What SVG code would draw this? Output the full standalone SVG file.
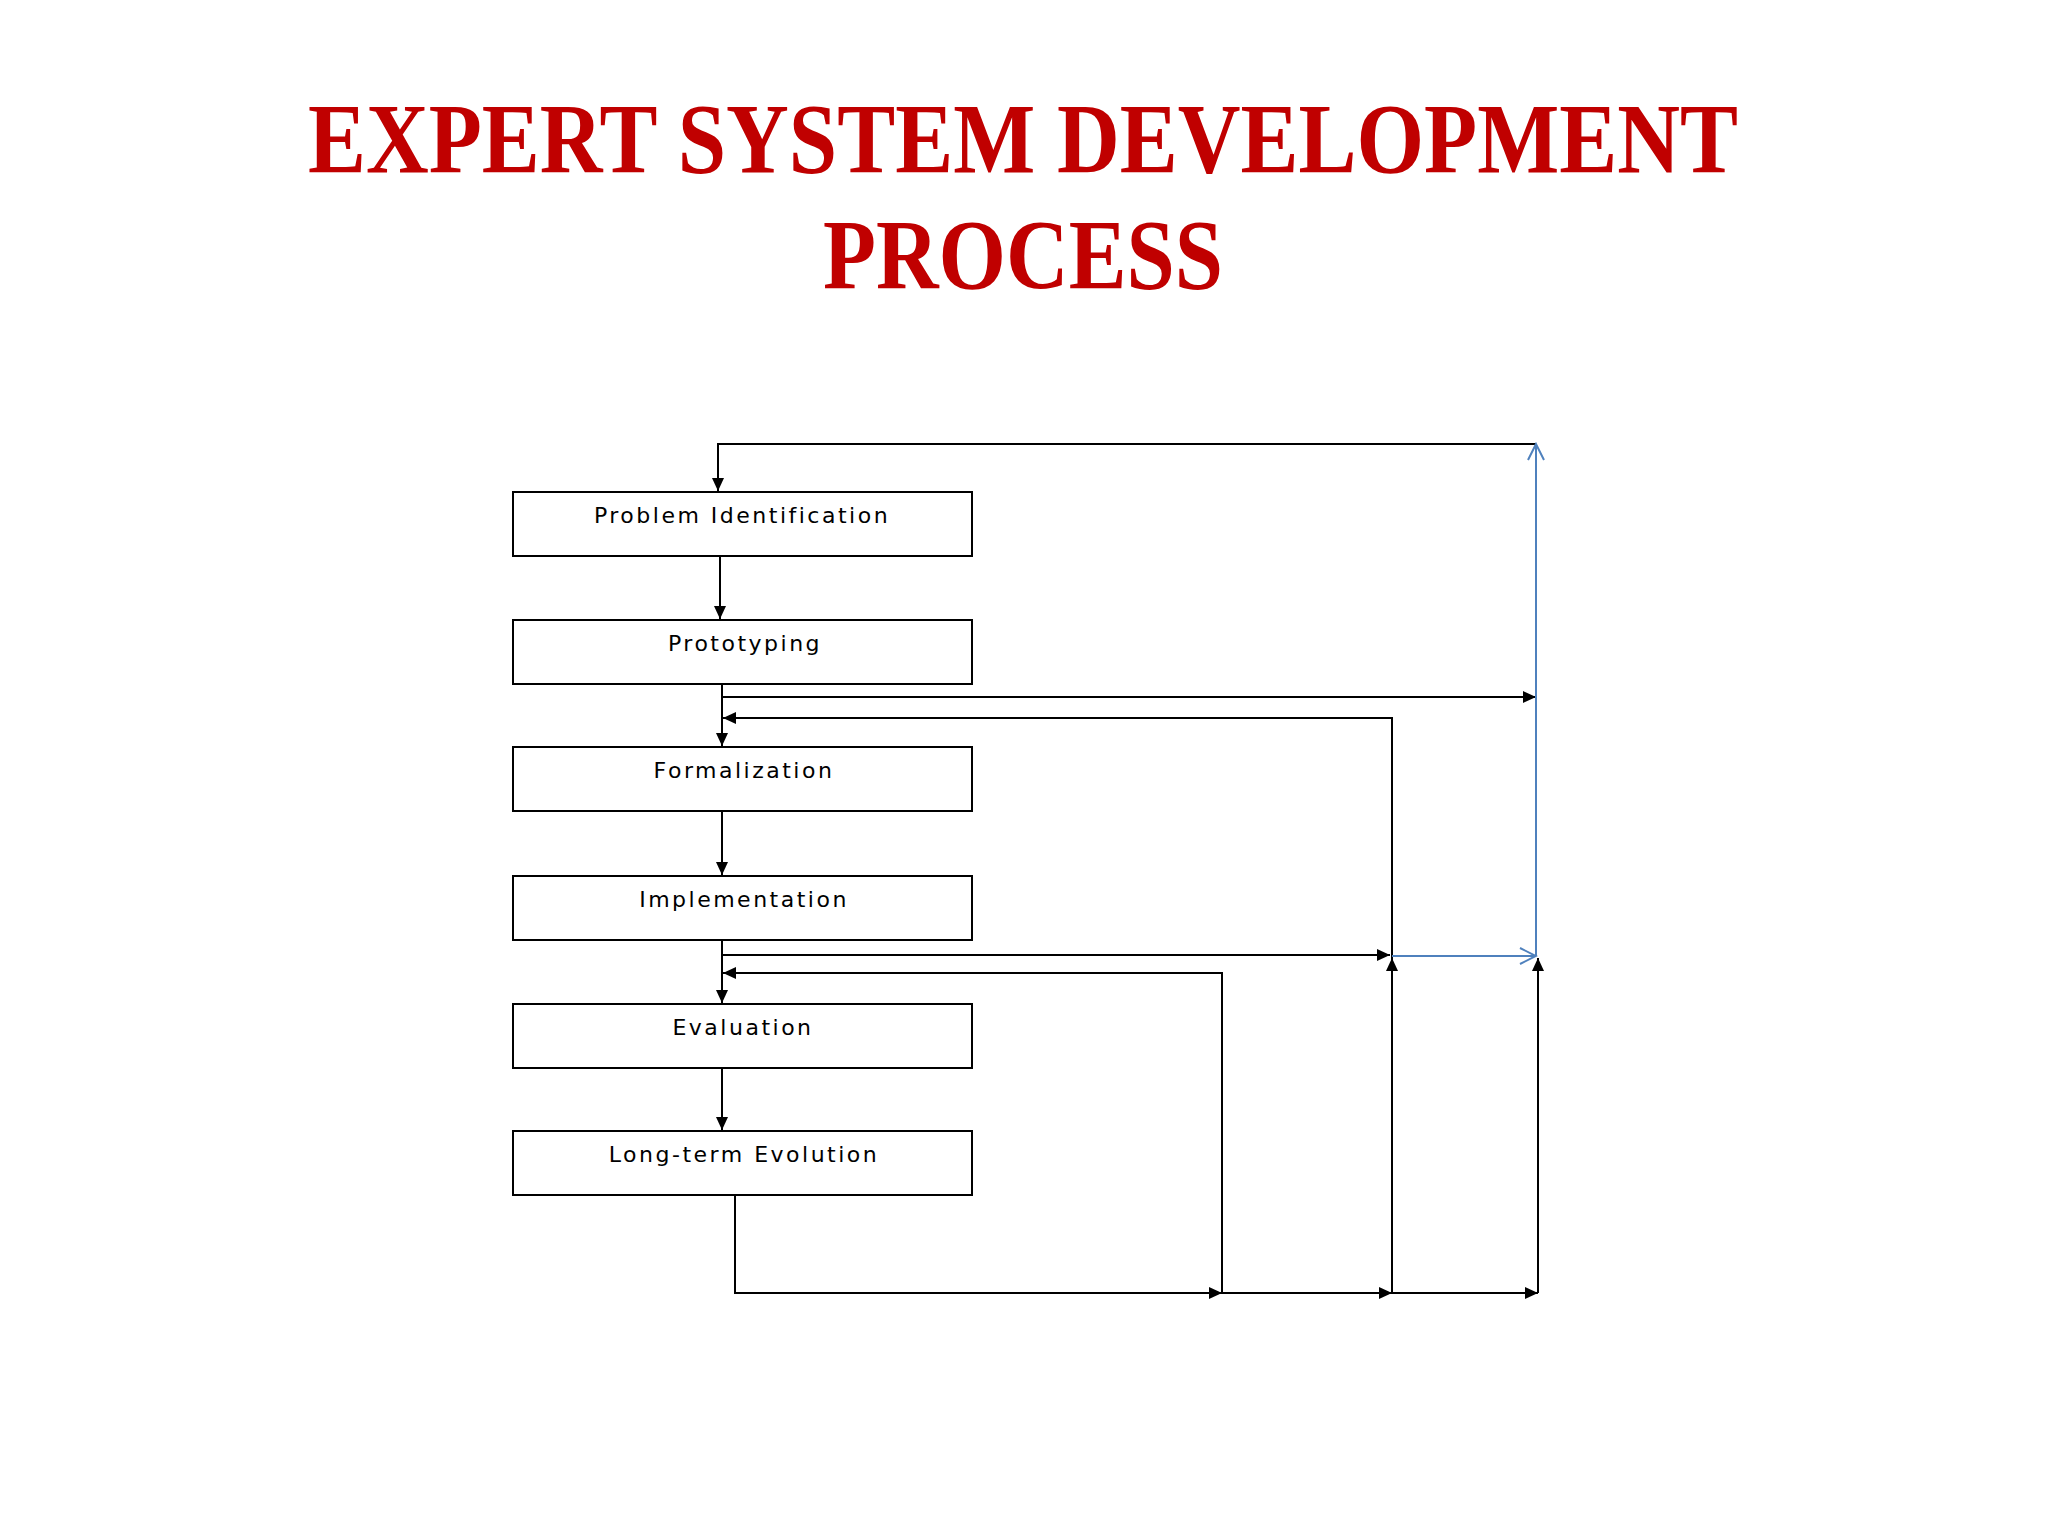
<svg xmlns="http://www.w3.org/2000/svg" width="2048" height="1536" viewBox="0 0 2048 1536">
<style>
.t{font-family:"Liberation Serif",serif;font-weight:bold;font-size:100px;fill:#C00000;text-anchor:middle}
.b{fill:#fff;stroke:#000;stroke-width:2}
.l{font-family:"DejaVu Sans",sans-serif;font-size:22px;text-anchor:middle;letter-spacing:2.5px;fill:#000}
.c{fill:none;stroke:#000;stroke-width:2}
.u{fill:none;stroke:#4F81BD;stroke-width:2}
</style>
<defs>
<marker id="a" markerWidth="14" markerHeight="14" refX="13" refY="7" orient="auto" markerUnits="userSpaceOnUse"><path d="M0,1L13,7L0,13z" fill="#000"/></marker>
<marker id="o" markerWidth="20" markerHeight="20" refX="18" refY="10" orient="auto" markerUnits="userSpaceOnUse"><path d="M2,2L18,10L2,18" fill="none" stroke="#4F81BD" stroke-width="2"/></marker>
</defs>
<rect width="2048" height="1536" fill="#fff"/>
<text class="t" x="1023" y="172" textLength="1430" lengthAdjust="spacingAndGlyphs">EXPERT SYSTEM DEVELOPMENT</text>
<text class="t" x="1023" y="288" textLength="400" lengthAdjust="spacingAndGlyphs">PROCESS</text>
<g id="connectors">
<path class="c" d="M1536,444H718V491" marker-end="url(#a)"/>
<path class="c" d="M720,556V619" marker-end="url(#a)"/>
<path class="c" d="M722,684V746" marker-end="url(#a)"/>
<path class="c" d="M722,697H1536" marker-end="url(#a)"/>
<path class="c" d="M1392,1293V718H723" marker-end="url(#a)"/>
<path class="c" d="M722,811V875" marker-end="url(#a)"/>
<path class="c" d="M722,940V1003" marker-end="url(#a)"/>
<path class="c" d="M722,955H1390" marker-end="url(#a)"/>
<path class="c" d="M1222,1293V973H723" marker-end="url(#a)"/>
<path class="c" d="M722,1068V1130" marker-end="url(#a)"/>
<path class="c" d="M735,1195V1293H1222" marker-end="url(#a)"/>
<path class="c" d="M1222,1293H1392" marker-end="url(#a)"/>
<path class="c" d="M1392,1293H1538" marker-end="url(#a)"/>
<path class="c" d="M1392,1293V958" marker-end="url(#a)"/>
<path class="c" d="M1538,1293V958" marker-end="url(#a)"/>
<path class="u" d="M1392,956H1536" marker-end="url(#o)"/>
<path class="u" d="M1536,956V444" marker-end="url(#o)"/>
</g>
<g id="n1"><rect class="b" x="513" y="492" width="459" height="64"/><text class="l" x="742" y="523">Problem Identification</text></g>
<g id="n2"><rect class="b" x="513" y="620" width="459" height="64"/><text class="l" x="745" y="651">Prototyping</text></g>
<g id="n3"><rect class="b" x="513" y="747" width="459" height="64"/><text class="l" x="744" y="778">Formalization</text></g>
<g id="n4"><rect class="b" x="513" y="876" width="459" height="64"/><text class="l" x="744" y="907">Implementation</text></g>
<g id="n5"><rect class="b" x="513" y="1004" width="459" height="64"/><text class="l" x="743" y="1035">Evaluation</text></g>
<g id="n6"><rect class="b" x="513" y="1131" width="459" height="64"/><text class="l" x="744" y="1162">Long-term Evolution</text></g>
</svg>
